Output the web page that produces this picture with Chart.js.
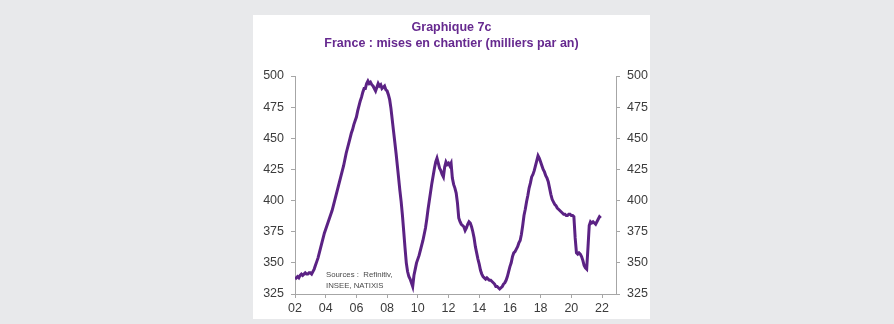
<!DOCTYPE html>
<html lang="fr">
<head>
<meta charset="utf-8">
<title>Graphique 7c</title>
<script src="https://cdn.jsdelivr.net/npm/chart.js@4/dist/chart.umd.min.js"></script>
<style>
  html, body { margin: 0; padding: 0; background: #e8e9eb; }
  body { width: 894px; height: 324px; position: relative; overflow: hidden; }
  #panel { position: absolute; left: 253px; top: 15px; width: 397px; height: 304px; background: #ffffff; }
  canvas { display: block; }
</style>
</head>
<body>
<div id="panel"><canvas id="chart" width="397" height="304"></canvas></div>
<script>
// Mises en chantier de logements, France, cumul 12 mois (milliers), mensuel depuis janvier 2002
const firstYear = 2002;
const housingStarts = [
  // 2002
  337, 338, 339, 338, 340, 341, 340, 341, 342, 341, 341, 342,
  // 2003
  342, 341, 343, 345, 348, 351, 354, 358, 362, 366, 370, 374,
  // 2004
  377, 380, 383, 386, 389, 392, 396, 400, 404, 408, 412, 416,
  // 2005
  420, 424, 428, 433, 438, 442, 446, 450, 454, 457, 461, 464,
  // 2006
  467, 472, 476, 480, 483, 487, 490, 490, 494, 496, 494, 495,
  // 2007
  493, 492, 490, 488, 491, 494, 492, 493, 490, 491, 492, 489,
  // 2008
  488, 485, 481, 474, 465, 456, 447, 438, 428, 418, 408, 399,
  // 2009
  388, 375, 362, 350, 343, 339, 337, 334, 331, 340, 345, 350,
  // 2010
  353, 356, 360, 364, 368, 373, 378, 385, 393, 400, 407, 414,
  // 2011
  420, 426, 431, 434, 430, 426, 424, 421, 419, 427, 431, 429,
  // 2012
  430, 428, 430, 418, 413, 410, 406, 398, 386, 383, 381, 380,
  // 2013
  379, 376, 378, 381, 383, 382, 379, 375, 370, 363, 358, 353,
  // 2014
  349, 344, 341, 339, 338, 337, 338, 337, 336, 336, 335, 334,
  // 2015
  333, 331, 331, 330, 329, 330, 331, 333, 334, 336, 339, 343,
  // 2016
  347, 350, 355, 358, 359, 361, 363, 366, 368, 373, 380, 388,
  // 2017
  393, 399, 404, 410, 414, 419, 421, 424, 428, 432, 436, 434,
  // 2018
  431, 428, 425, 423, 420, 418, 415, 410, 405, 401, 399, 397,
  // 2019
  396, 394, 393, 392, 391, 390, 389, 389, 388, 388, 389, 389,
  // 2020
  388, 388, 387, 370, 358, 357, 358, 357, 355, 352, 348, 346,
  // 2021
  345, 362, 380, 383, 382, 383, 382, 381, 383, 385, 387, 386
];
const xTickYears = [2002, 2004, 2006, 2008, 2010, 2012, 2014, 2016, 2018, 2020, 2022];
const yTickValues = [325, 350, 375, 400, 425, 450, 475, 500];
const titleLines = ['Graphique 7c', 'France : mises en chantier (milliers par an)'];
const sourceLines = ['Sources :  Refinitiv,', 'INSEE, NATIXIS'];

const points = housingStarts.map((v, i) => ({ x: firstYear + i / 12, y: v }));

const axisGray = '#a6a6a6';
const labelGray = '#3c3c3c';
const purple = '#5b2284';

function fixedTicks(values) {
  return function (scale) { scale.ticks = values.map(v => ({ value: v })); };
}

const yAxisCommon = {
  type: 'linear',
  min: 325,
  max: 500,
  afterBuildTicks: fixedTicks(yTickValues),
  border: { display: true, color: axisGray, width: 1 },
  grid: { drawOnChartArea: false, drawTicks: true, tickLength: 4, color: axisGray },
  ticks: { color: labelGray, padding: 7, font: { family: 'Liberation Sans, Arial, sans-serif', size: 12.5 } }
};

// Source note written inside the plot, lower left
const sourcesPlugin = {
  id: 'sources',
  afterDraw(chart) {
    const ctx = chart.ctx;
    ctx.save();
    ctx.fillStyle = '#4a4a4a';
    ctx.font = '7.8px "Liberation Sans", Arial, sans-serif';
    ctx.textBaseline = 'middle';
    ctx.textAlign = 'left';
    const x = chart.chartArea.left + 31;
    sourceLines.forEach((t, i) => ctx.fillText(t, x, 260 + i * 11));
    ctx.restore();
  }
};

new Chart(document.getElementById('chart'), {
  type: 'line',
  data: {
    datasets: [{
      data: points,
      borderColor: purple,
      borderWidth: 3,
      pointRadius: 0,
      tension: 0,
      fill: false
    }]
  },
  options: {
    responsive: false,
    animation: false,
    layout: { padding: 0 },
    plugins: {
      legend: { display: false },
      tooltip: { enabled: false },
      title: {
        display: true,
        text: titleLines,
        color: '#66298f',
        font: { family: 'Liberation Sans, Arial, sans-serif', size: 12.5, weight: 'bold', lineHeight: 1.28 },
        padding: { top: 5, bottom: 24 }
      }
    },
    scales: {
      x: {
        type: 'linear',
        min: 2002,
        max: 2022.91,
        afterBuildTicks: fixedTicks(xTickYears),
        afterFit(scale) { scale.height = 25; },
        border: { display: true, color: axisGray, width: 1 },
        grid: { drawOnChartArea: false, drawTicks: true, tickLength: 4, color: axisGray },
        ticks: {
          color: labelGray,
          padding: 3,
          maxRotation: 0,
          font: { family: 'Liberation Sans, Arial, sans-serif', size: 12.5 },
          callback: v => String(v % 100).padStart(2, '0')
        }
      },
      y: Object.assign({}, yAxisCommon, {
        position: 'left',
        afterFit(scale) { scale.width = 42; }
      }),
      y2: Object.assign({}, yAxisCommon, {
        position: 'right',
        afterFit(scale) { scale.width = 34; }
      })
    }
  },
  plugins: [sourcesPlugin]
});
</script>
</body>
</html>
